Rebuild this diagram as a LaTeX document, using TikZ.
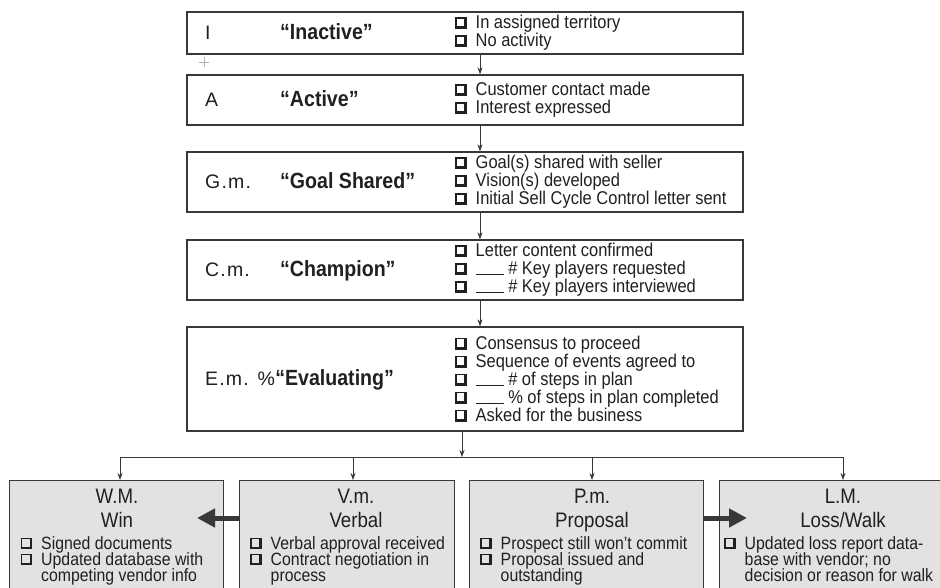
\documentclass[tikz,border=0pt]{standalone}
\usepackage{fontspec}
\setmainfont{Liberation Sans}[FakeStretch=0.89]
\newfontfamily\stagefont{Liberation Sans}[LetterSpace=6]
\usetikzlibrary{arrows.meta}
\definecolor{ink}{HTML}{202020}
\definecolor{edge}{HTML}{383838}
\definecolor{panel}{HTML}{E2E2E2}

% shadowed check box: thin left/top edge, heavier right/bottom edge
\newcommand\ckb{\makebox[11.5pt][l]{%
  \rlap{\rule{1.3pt}{11.5pt}}%
  \rlap{\rule[10.2pt]{11.5pt}{1.3pt}}%
  \rlap{\rule{11.5pt}{2.4pt}}%
  \rlap{\hspace{9.1pt}\rule{2.4pt}{11.5pt}}}}
\newcommand\itm{\ckb\hspace{9pt}}
\newcommand\blank{\rule[-0.6pt]{28pt}{0.9pt}}

\begin{document}
\begin{tikzpicture}[x=1pt,y=-1pt,
  every node/.style={text=ink, inner sep=0pt},
  stagebox/.style={draw=edge, line width=1.3pt, fill=white, minimum width=556pt},
  outbox/.style={draw=edge, line width=1.3pt, fill=panel, anchor=north west, minimum height=140pt},
  stagecode/.style={font=\stagefont\fontsize{19.5}{22}\selectfont, anchor=base west},
  titletext/.style={font=\bfseries\fontsize{22}{24}\selectfont, anchor=base west},
  checklist/.style={font={\fontsize{18.5}{18}\selectfont\lineskiplimit=-20pt}, align=left, anchor=west},
  outtitle/.style={font=\fontsize{21}{24}\selectfont, anchor=base},
  outlist/.style={font={\fontsize{17.8}{16.2}\selectfont\lineskiplimit=-20pt}, align=left, anchor=north west},
  flow/.style={draw=edge, line width=0.9pt, -{Stealth[length=7pt,width=5pt]}},
  fatarrow/.style={draw=edge, line width=5pt, -{Triangle[length=18pt,width=18pt]}}
]
\useasboundingbox (0,0) rectangle (940,587);
\clip (0,0) rectangle (940,587);
\fill[white] (0,0) rectangle (940,587);

% ---- stage boxes ----
\node[stagebox, minimum height=42pt]  (inactive)   at (465,33)  {};
\node[stagebox, minimum height=50pt]  (active)     at (465,100) {};
\node[stagebox, minimum height=60pt]  (goal)       at (465,182) {};
\node[stagebox, minimum height=60pt]  (champion)   at (465,270) {};
\node[stagebox, minimum height=104pt] (evaluating) at (465,379) {};

\node[stagecode]  (inactiveCode) at (205,39)  {I};
\node[titletext]  (inactiveName) at (280,39)  {“Inactive”};
\node[checklist]  (inactiveList) at (455,33)  {\itm In assigned territory\\ \itm No activity};

\node[stagecode]  (activeCode) at (205,106) {A};
\node[titletext]  (activeName) at (280,106) {“Active”};
\node[checklist]  (activeList) at (455,100) {\itm Customer contact made\\ \itm Interest expressed};

\node[stagecode]  (goalCode) at (205,188) {G.m.};
\node[titletext]  (goalName) at (280,188) {“Goal Shared”};
\node[checklist]  (goalList) at (455,182) {\itm Goal(s) shared with seller\\ \itm Vision(s) developed\\ \itm Initial Sell Cycle Control letter sent};

\node[stagecode]  (champCode) at (205,276) {C.m.};
\node[titletext]  (champName) at (280,276) {“Champion”};
\node[checklist]  (champList) at (455,270) {\itm Letter content confirmed\\ \itm\blank\ \# Key players requested\\ \itm\blank\ \# Key players interviewed};

\node[stagecode]  (evalCode) at (205,385) {E.m. \%};
\node[titletext]  (evalName) at (evalCode.base east) {“Evaluating”};
\node[checklist]  (evalList) at (455,379) {\itm Consensus to proceed\\ \itm Sequence of events agreed to\\ \itm\blank\ \# of steps in plan\\ \itm\blank\ \% of steps in plan completed\\ \itm Asked for the business};

% ---- connectors between stages ----
\coordinate (spine) at (480,0);
\draw[flow] (inactive.south -| spine) -- (active.north -| spine);
\draw[flow] (active.south -| spine)   -- (goal.north -| spine);
\draw[flow] (goal.south -| spine)     -- (champion.north -| spine);
\draw[flow] (champion.south -| spine) -- (evaluating.north -| spine);

% ---- outcome boxes ----
\node[outbox, minimum width=214pt] (win)      at (9,480)   {};
\node[outbox, minimum width=215pt] (verbal)   at (239,480) {};
\node[outbox, minimum width=234pt] (proposal) at (469,480) {};
\node[outbox, minimum width=250pt] (loss)     at (719,480) {};

% ---- split from the evaluating stage ----
\coordinate (hub) at (462,457);
\coordinate (tw) at (120,457);
\coordinate (tv) at (353,457);
\coordinate (tp) at (592,457);
\coordinate (tl) at (843,457);
\draw[flow] (evaluating.south -| hub) -- (hub);
\draw[draw=edge, line width=0.9pt] (tw) -- (tl);
\draw[flow] (tw) -- (tw |- win.north);
\draw[flow] (tv) -- (tv |- verbal.north);
\draw[flow] (tp) -- (tp |- proposal.north);
\draw[flow] (tl) -- (tl |- loss.north);

% ---- outcome texts ----
\node[outtitle] (winCode)  at (117,503) {W.M.};
\node[outtitle] (winName)  at (117,527) {Win};
\node[outlist]  (winList)  at (20.5,536) {\rule{0pt}{13pt}\itm Signed documents\\ \itm Updated database with\\ \hspace*{20.5pt}competing vendor info};

\node[outtitle] (verbalCode) at (356,503) {V.m.};
\node[outtitle] (verbalName) at (356,527) {Verbal};
\node[outlist]  (verbalList) at (250,536) {\rule{0pt}{13pt}\itm Verbal approval received\\ \itm Contract negotiation in\\ \hspace*{20.5pt}process};

\node[outtitle] (propCode) at (592,503) {P.m.};
\node[outtitle] (propName) at (592,527) {Proposal};
\node[outlist]  (propList) at (480,536) {\rule{0pt}{13pt}\itm Prospect still won’t commit\\ \itm Proposal issued and\\ \hspace*{20.5pt}outstanding};

\node[outtitle] (lossCode) at (843,503) {L.M.};
\node[outtitle] (lossName) at (843,527) {Loss/Walk};
\node[outlist]  (lossList) at (724,536) {\rule{0pt}{13pt}\itm Updated loss report data-\\ \hspace*{20.5pt}base with vendor; no\\ \hspace*{20.5pt}decision or reason for walk};

% ---- sideways moves ----
\coordinate (winTip)  at (197,518);
\coordinate (lossTip) at (747,518);
\draw[fatarrow] (verbal.west |- winTip) -- (winTip);
\draw[fatarrow] (proposal.east |- lossTip) -- (lossTip);

% registration mark
\draw[gray!60, line width=0.4pt] (199,62) -- (209,62) (204,57) -- (204,67);
\end{tikzpicture}
\end{document}
